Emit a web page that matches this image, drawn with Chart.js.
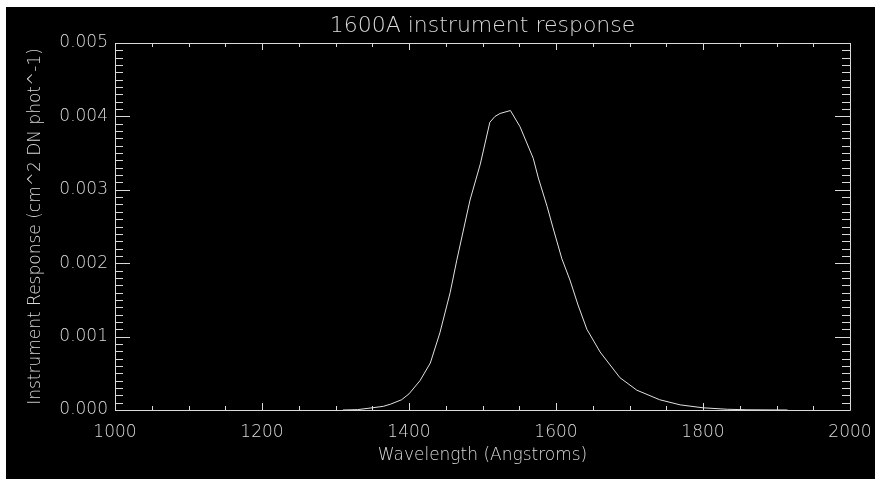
<!DOCTYPE html>
<html>
<head>
<meta charset="utf-8">
<script src="https://cdn.jsdelivr.net/npm/chart.js@4/dist/chart.umd.min.js"></script>
<style>
  html, body { margin: 0; padding: 0; background: #ffffff; overflow: hidden; width: 100%; height: 100%; }
  #wrap { position: absolute; left: 6px; top: 7px; right: 0; bottom: 0; background: #000000; overflow: hidden; }
  canvas { display: block; }
</style>
</head>
<body>
<div id="wrap"><canvas id="c" width="869" height="472"></canvas></div>
<script>
// ---- data ----
const wavelength = [1310, 1330, 1350, 1365, 1375, 1390, 1400, 1415, 1429, 1442, 1456, 1465, 1483, 1497, 1510, 1517, 1524, 1538, 1551, 1569, 1576, 1588, 1596, 1608, 1619, 1630, 1642, 1660, 1687, 1710, 1741, 1769, 1800, 1833, 1860, 1915];
const response   = [0, 0.000005, 0.00003, 0.00005, 0.00008, 0.00014, 0.00022, 0.00040, 0.00064, 0.00105, 0.00160, 0.00204, 0.00286, 0.00335, 0.00392, 0.00400, 0.00404, 0.00408, 0.00386, 0.00343, 0.00316, 0.00277, 0.00248, 0.00206, 0.00177, 0.00143, 0.00110, 0.00079, 0.00044, 0.00027, 0.00014, 0.00007, 0.00003, 0.00001, 0.000003, 0];
const xTickValues = [1000, 1200, 1400, 1600, 1800, 2000];
const yTickValues = [0, 0.001, 0.002, 0.003, 0.004, 0.005];
const xMinorStep = 50;
const yMinorStep = 0.0001;
const titleText = '1600A instrument response';
const xTitle = 'Wavelength (Angstroms)';
const yTitle = 'Instrument Response (cm^2 DN phot^-1)';

const fg = '#dadada';
const fontFamily = "'DejaVu Sans', sans-serif";

const framePlugin = {
  id: 'idlFrame',
  afterLayout(chart) {
    // centre the title over the plot area, as in the original
    if (chart.titleBlock) {
      chart.titleBlock.left = chart.chartArea.left;
      chart.titleBlock.right = chart.chartArea.right;
    }
  },
  afterDraw(chart) {
    const ctx = chart.ctx;
    const a = chart.chartArea;
    const xs = chart.scales.x, ys = chart.scales.y;
    ctx.save();
    ctx.strokeStyle = fg;
    ctx.lineWidth = 1;
    ctx.beginPath();
    ctx.rect(Math.round(a.left) + 0.5, Math.round(a.top) + 0.5, Math.round(a.right - a.left), Math.round(a.bottom - a.top));
    ctx.stroke();
    ctx.beginPath();
    // x ticks
    const nx = Math.round((xs.max - xs.min) / xMinorStep);
    for (let i = 0; i <= nx; i++) {
      const v = xs.min + i * xMinorStep;
      const px = Math.round(xs.getPixelForValue(v)) + 0.5;
      const major = xTickValues.includes(v);
      const len = major ? 7 : 4;
      ctx.moveTo(px, a.bottom); ctx.lineTo(px, a.bottom - len);
      ctx.moveTo(px, a.top); ctx.lineTo(px, a.top + len);
    }
    // y ticks
    const ny = Math.round((ys.max - ys.min) / yMinorStep);
    for (let i = 0; i <= ny; i++) {
      const v = ys.min + i * yMinorStep;
      const py = Math.round(ys.getPixelForValue(v)) + 0.5;
      const major = i % 10 === 0;
      const len = major ? 15 : 8;
      ctx.moveTo(a.left, py); ctx.lineTo(a.left + len, py);
      ctx.moveTo(a.right, py); ctx.lineTo(a.right - len, py);
    }
    ctx.stroke();
    ctx.restore();
  }
};

new Chart(document.getElementById('c'), {
  type: 'line',
  data: {
    datasets: [{
      data: wavelength.map((w, i) => ({ x: w, y: response[i] })),
      borderColor: '#e2e2e2',
      borderWidth: 1,
      pointRadius: 0,
      tension: 0,
      fill: false
    }]
  },
  options: {
    responsive: false,
    animation: false,
    layout: { padding: { left: 0, right: 25, top: 0, bottom: 0 } },
    plugins: {
      legend: { display: false },
      tooltip: { enabled: false },
      title: {
        display: true,
        text: titleText,
        color: fg,
        font: { family: fontFamily, size: 22, weight: 200, lineHeight: 1.2 },
        padding: { top: 6, bottom: 3.6 }
      }
    },
    scales: {
      x: {
        type: 'linear',
        min: 1000, max: 2000,
        afterBuildTicks(s) { s.ticks = xTickValues.map(v => ({ value: v })); },
        afterFit(s) { s.height = 69; s.paddingLeft = 0; s.paddingRight = 0; },
        grid: { display: false, drawTicks: false },
        border: { display: false },
        ticks: {
          color: fg, padding: 12, maxRotation: 0,
          font: { family: fontFamily, size: 17, weight: 200 },
          callback: v => String(v)
        },
        title: {
          display: true, text: xTitle, color: fg,
          font: { family: fontFamily, size: 17, weight: 200, lineHeight: 1.2 },
          padding: { top: 0, bottom: 13 }
        }
      },
      y: {
        type: 'linear',
        min: 0, max: 0.005,
        afterBuildTicks(s) { s.ticks = yTickValues.map(v => ({ value: v })); },
        afterFit(s) { s.width = 109; s.paddingTop = 0; s.paddingBottom = 0; },
        grid: { display: false, drawTicks: false },
        border: { display: false },
        ticks: {
          color: fg, padding: 7,
          font: { family: fontFamily, size: 17, weight: 200 },
          callback: v => Number(v).toFixed(3)
        },
        title: {
          display: true, text: yTitle, color: fg,
          font: { family: fontFamily, size: 17, weight: 200, lineHeight: 1.2 },
          padding: { top: 19, bottom: 0 }
        }
      }
    }
  },
  plugins: [framePlugin]
});
</script>
</body>
</html>
